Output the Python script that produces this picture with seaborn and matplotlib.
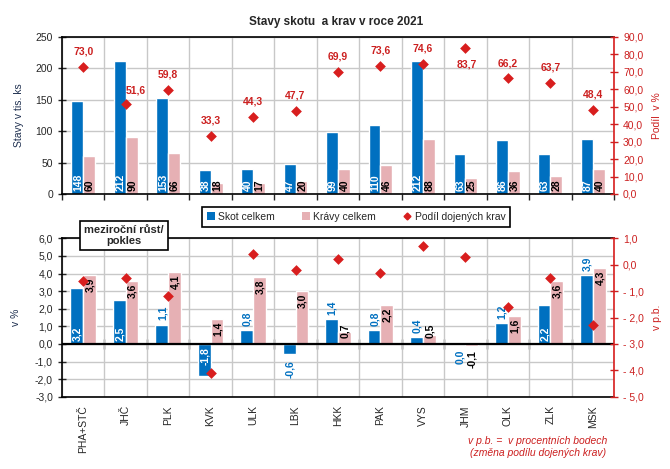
import matplotlib
matplotlib.use("Agg")
import matplotlib.pyplot as plt
import matplotlib.ticker as mticker
from matplotlib.patches import Patch
from matplotlib.lines import Line2D
import seaborn as sns
import pandas as pd

kraje = ["PHA+STČ", "JHČ", "PLK", "KVK", "ULK", "LBK", "HKK",
         "PAK", "VYS", "JHM", "OLK", "ZLK", "MSK"]
skot = [148, 212, 153, 38, 40, 47, 99, 110, 212, 63, 86, 63, 87]
kravy = [60, 90, 66, 18, 17, 20, 40, 46, 88, 25, 36, 28, 40]
podil = [73.0, 51.6, 59.8, 33.3, 44.3, 47.7, 69.9, 73.6, 74.6, 83.7, 66.2, 63.7, 48.4]
skot_zmena = [3.2, 2.5, 1.1, -1.8, 0.8, -0.6, 1.4, 0.8, 0.4, 0.0, 1.2, 2.2, 3.9]
kravy_zmena = [3.9, 3.6, 4.1, 1.4, 3.8, 3.0, 0.7, 2.2, 0.5, -0.1, 1.6, 3.6, 4.3]
podil_zmena = [-0.6, -0.5, -1.2, -4.1, 0.4, -0.2, 0.2, -0.3, 0.7, 0.3, -1.6, -0.5, -2.3]

modra = "#0070c0"
ruzova = "#e6b0b4"
cervena = "#d81e1e"
cerveny_text = "#cc2020"
tmava = "#1f3050"

sns.set_style("ticks")
plt.rcParams["font.family"] = ["Liberation Sans", "DejaVu Sans"]
plt.rcParams["font.size"] = 7.5


def carka(v, p):
    return f"{v:.1f}".replace(".", ",")


def carka_pb(v, p):
    if v < -0.01:
        return "- " + f"{abs(v):.1f}".replace(".", ",")
    return f"{abs(v):.1f}".replace(".", ",")


fig = plt.figure(figsize=(6.7, 4.69), dpi=100)
ax1 = fig.add_axes([0.0925, 0.5864, 0.824, 0.3348])
ax2 = fig.add_axes([0.0925, 0.1541, 0.824, 0.3378])

hranice = [i - 0.5 for i in range(14)]

# ---------- horni graf: stavy ----------
df_top = pd.DataFrame({
    "kraj": kraje * 2,
    "hodnota": skot + kravy,
    "serie": ["Skot celkem"] * 13 + ["Krávy celkem"] * 13,
})
sns.barplot(data=df_top, x="kraj", y="hodnota", hue="serie",
            palette=[modra, ruzova], saturation=1, width=0.56, gap=0,
            legend=False, ax=ax1, zorder=2)
ax1.set_xlim(-0.5, 12.5)
ax1.set_ylim(0, 250)
ax1.set_yticks(range(0, 251, 50))
ax1.set_xticks(hranice)
ax1.set_xticklabels([])
ax1.set_xlabel("")
ax1.set_ylabel("Stavy v tis. ks", color=tmava, fontsize=7.5, labelpad=8)
ax1.grid(True, color="#c8c8c8", lw=1)
ax1.set_axisbelow(True)
ax1.tick_params(axis="x", direction="out", length=4, width=1)
ax1.tick_params(axis="y", direction="inout", length=6, width=1)
for s in ["left", "bottom", "top"]:
    ax1.spines[s].set_color("black")
    ax1.spines[s].set_linewidth(1.2)
ax1.spines["right"].set_visible(False)

for cont, barva in zip(ax1.containers, ["white", "black"]):
    for bar in cont:
        x = bar.get_x() + bar.get_width() / 2
        ax1.annotate(f"{bar.get_height():.0f}", (x, 0), xytext=(0.5, 2),
                     textcoords="offset points", rotation=90, ha="center",
                     va="bottom", color=barva, fontweight="bold", fontsize=7.5)

ax1r = ax1.twinx()
sns.scatterplot(x=list(range(13)), y=podil, marker="D", color=cervena, s=30,
                linewidth=0, ax=ax1r, zorder=5)
ax1r.set_ylim(0, 90)
ax1r.set_yticks(range(0, 91, 10))
ax1r.yaxis.set_major_formatter(mticker.FuncFormatter(carka))
ax1r.set_ylabel("Podíl  v %", color=cerveny_text, fontsize=7.5, labelpad=6)
ax1r.tick_params(axis="y", colors=cerveny_text, direction="inout", length=6, width=1)
ax1r.spines["right"].set_color(cervena)
ax1r.spines["right"].set_linewidth(1.2)
for s in ["left", "top", "bottom"]:
    ax1r.spines[s].set_visible(False)

posuny = {1: (7, 10), 9: (1, -12)}
for i, v in enumerate(podil):
    dx, dy = posuny.get(i, (0, 11))
    ax1r.annotate(f"{v:.1f}".replace(".", ","), (i, v), xytext=(dx, dy),
                  textcoords="offset points", ha="center", va="center",
                  color=cerveny_text, fontweight="bold", fontsize=7.5)

# ---------- dolni graf: mezirocni zmena ----------
df_bot = pd.DataFrame({
    "kraj": kraje * 2,
    "hodnota": skot_zmena + kravy_zmena,
    "serie": ["Skot celkem"] * 13 + ["Krávy celkem"] * 13,
})
sns.barplot(data=df_bot, x="kraj", y="hodnota", hue="serie",
            palette=[modra, ruzova], saturation=1, width=0.6, gap=0,
            legend=False, ax=ax2, zorder=2)
ax2.set_xlim(-0.5, 12.5)
ax2.set_ylim(-3, 6)
ax2.set_yticks(range(-3, 7))
ax2.yaxis.set_major_formatter(mticker.FuncFormatter(carka))
ax2.set_xticks(range(13))
ax2.set_xticklabels(kraje, rotation=90)
ax2.set_xticks(hranice, minor=True)
ax2.set_xlabel("")
ax2.set_ylabel("v %", color=tmava, fontsize=7.5, labelpad=10)
ax2.grid(True, which="minor", axis="x", color="#c8c8c8", lw=1)
ax2.grid(True, which="major", axis="y", color="#c8c8c8", lw=1)
ax2.set_axisbelow(True)
ax2.tick_params(axis="x", which="both", length=0, pad=6)
ax2.tick_params(axis="y", direction="inout", length=6, width=1)
for s in ["left", "bottom", "top"]:
    ax2.spines[s].set_color("black")
    ax2.spines[s].set_linewidth(1.2)
ax2.spines["right"].set_visible(False)
ax2.axhline(0, color="black", lw=1.6, zorder=3)

nula = ax2.secondary_xaxis(1 / 3)
nula.set_xticks(hranice[1:-1])
nula.tick_params(axis="x", direction="inout", length=7, width=1,
                 labelbottom=False, labeltop=False)
for s in nula.spines.values():
    s.set_visible(False)

# popisky modrych sloupcu: uvnitr u zakladny jen u nekterych krajich
uvnitr = {0, 1, 3, 11}
skot_bars, kravy_bars = ax2.containers[0], ax2.containers[1]
for i, (bar, v) in enumerate(zip(skot_bars, skot_zmena)):
    x = bar.get_x() + bar.get_width() / 2
    t = f"{v:.1f}".replace(".", ",")
    if i in uvnitr and v > 0:
        ax2.annotate(t, (x, 0), xytext=(0.5, 2), textcoords="offset points",
                     rotation=90, ha="center", va="bottom", color="white",
                     fontweight="bold", fontsize=7.5)
    elif i in uvnitr:
        ax2.annotate(t, (x, 0), xytext=(0.5, -2), textcoords="offset points",
                     rotation=90, ha="center", va="top", color="white",
                     fontweight="bold", fontsize=7.5)
    elif v > 0:
        ax2.annotate(t, (x, v), xytext=(0.5, 3), textcoords="offset points",
                     rotation=90, ha="center", va="bottom", color=modra,
                     fontweight="bold", fontsize=7.5)
    else:
        ax2.annotate(t, (x, v), xytext=(0.5, -4), textcoords="offset points",
                     rotation=90, ha="center", va="top", color=modra,
                     fontweight="bold", fontsize=7.5)

for bar, v in zip(kravy_bars, kravy_zmena):
    x = bar.get_x() + bar.get_width() / 2
    t = f"{v:.1f}".replace(".", ",")
    if v > 0:
        ax2.annotate(t, (x, max(v, 1.3)), xytext=(0.5, -2), textcoords="offset points",
                     rotation=90, ha="center", va="top", color="black",
                     fontweight="bold", fontsize=7.5)
    else:
        ax2.annotate(t, (x, v), xytext=(0.5, -3), textcoords="offset points",
                     rotation=90, ha="center", va="top", color="black",
                     fontweight="bold", fontsize=7.5)

ax2r = ax2.twinx()
sns.scatterplot(x=list(range(13)), y=podil_zmena, marker="D", color=cervena, s=30,
                linewidth=0, ax=ax2r, zorder=5)
ax2r.set_ylim(-5, 1)
ax2r.set_yticks(range(-5, 2))
ax2r.yaxis.set_major_formatter(mticker.FuncFormatter(carka_pb))
ax2r.set_ylabel("v p.b.", color=cerveny_text, fontsize=7.5, labelpad=6)
ax2r.tick_params(axis="y", colors=cerveny_text, direction="inout", length=6, width=1)
ax2r.spines["right"].set_color(cervena)
ax2r.spines["right"].set_linewidth(1.2)
for s in ["left", "top", "bottom"]:
    ax2r.spines[s].set_visible(False)

# ---------- texty, legenda ----------
fig.text(0.5015, 1 - 22 / 469, "Stavy skotu  a krav v roce 2021", ha="center",
         va="center", fontweight="bold", fontsize=8.5)

fig.text(124 / 670, 1 - 235.5 / 469, "meziroční růst/\npokles", ha="center",
         va="center", fontweight="bold", fontsize=8, linespacing=1.1,
         bbox=dict(boxstyle="square,pad=0.35", fc="white", ec="black", lw=1.2),
         zorder=10)

handles = [
    Patch(facecolor=modra, edgecolor="none"),
    Patch(facecolor=ruzova, edgecolor="none"),
    Line2D([], [], marker="D", color=cervena, ls="", markersize=3.5),
]
leg = fig.legend(handles, ["Skot celkem", "Krávy celkem", "Podíl dojených krav"],
                 loc="center", bbox_to_anchor=(356 / 670, 1 - 217 / 469), ncol=3,
                 frameon=True, fancybox=False, edgecolor="black", framealpha=1,
                 fontsize=7.5, handlelength=0.8, handleheight=0.8,
                 handletextpad=0.3, columnspacing=2.6, borderpad=0.45)
leg.get_frame().set_linewidth(1.2)

fig.text(538 / 670, 1 - 447 / 469,
         "v p.b. =  v procentních bodech\n(změna podílu dojených krav)",
         ha="center", va="center", style="italic", color=cerveny_text,
         fontsize=7.5, linespacing=1.2)

fig.savefig("out.png", dpi=100)
